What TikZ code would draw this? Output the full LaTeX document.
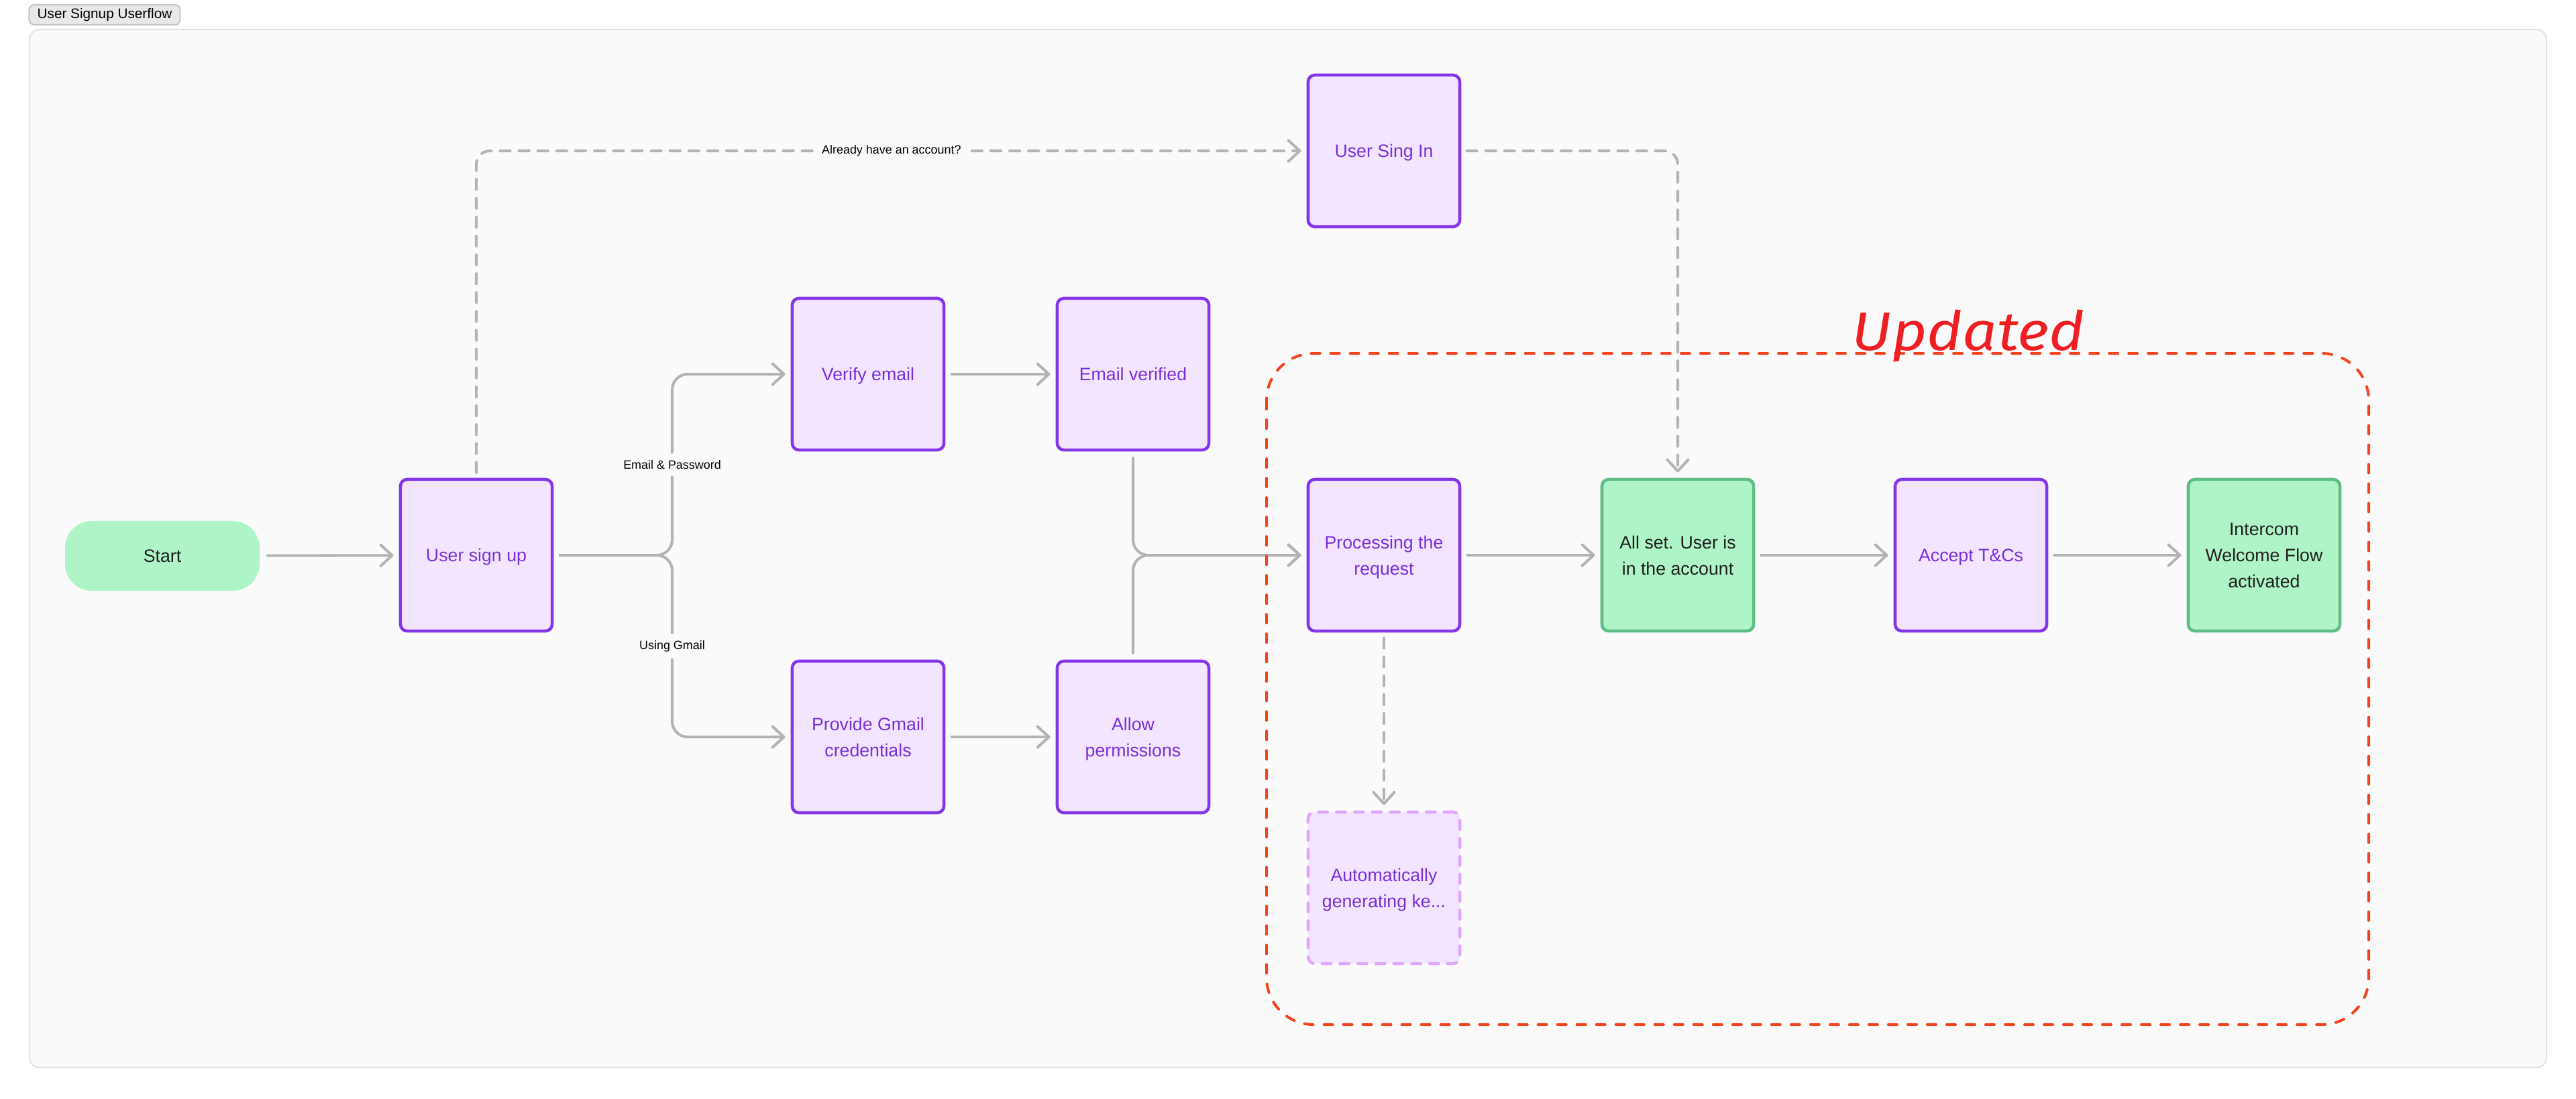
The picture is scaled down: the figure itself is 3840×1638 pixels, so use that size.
\documentclass[tikz,border=0pt]{standalone}
\usepackage{fontspec}
\setmainfont{Liberation Sans}
\newfontfamily\handfont{Fira Sans}[FakeStretch=1.12]
\usetikzlibrary{arrows.meta}
\definecolor{framefill}{HTML}{FAFAFA}
\definecolor{frameline}{HTML}{E2E2E2}
\definecolor{tabfill}{HTML}{E8E8E8}
\definecolor{tabline}{HTML}{C6C6C6}
\definecolor{boxfill}{HTML}{F3E5FF}
\definecolor{boxline}{HTML}{8536E8}
\definecolor{boxtext}{HTML}{7B2FDB}
\definecolor{ghostline}{HTML}{E0A6FC}
\definecolor{donefill}{HTML}{AFF4C6}
\definecolor{doneline}{HTML}{5EBD87}
\definecolor{donetext}{HTML}{1E1E1E}
\definecolor{linegray}{HTML}{B3B3B3}
\definecolor{redline}{HTML}{F2441E}
\definecolor{updred}{HTML}{EE1E22}
\begin{document}
\begin{tikzpicture}[x=0.01cm, y=-0.01cm,
		box/.style={draw=boxline, fill=boxfill, text=boxtext, line width=1.3pt, rounded corners=0.1cm,
			minimum width=2.26cm, minimum height=2.26cm, align=center, inner sep=0pt, text depth=0pt,
			font=\fontsize{7.6}{11.1}\selectfont},
		done/.style={box, draw=doneline, fill=donefill, text=donetext},
		ghost/.style={box, draw=ghostline, dash pattern=on 3.8pt off 3.8pt, line cap=round},
		flow/.style={draw=linegray, line width=1.15pt, rounded corners=0.23cm, shorten <=2.3pt, shorten >=2.3pt,
			-{Straight Barb[length=4.8pt,width=8.8pt,round]}},
		maybe/.style={flow, dash pattern=on 4.3pt off 3.7pt, line cap=round, rounded corners=0.2cm},
		lbl/.style={fill=framefill, text=black, inner xsep=0.1cm, inner ysep=0.1cm, font=\fontsize{5.1}{6}\selectfont}]
		\fill[white] (0,0) rectangle (3840,1638);
		\useasboundingbox (0,0) rectangle (3840,1638);
		\draw[draw=frameline, fill=framefill, line width=0.6pt, rounded corners=0.15cm] (44,44) rectangle (3796,1592);
		\node[draw=tabline, fill=tabfill, line width=0.6pt, rounded corners=0.08cm, minimum width=2.25cm,
			minimum height=0.3cm, inner sep=0pt, font=\fontsize{5.9}{7}\selectfont] (title) at (156,22) {User Signup Userflow};
		
		\node[done, draw=none, rounded corners=0.4cm, minimum width=2.9cm, minimum height=1.04cm] (start) at (242,829) {Start};
		\node[box] (signup) at (710,828) {User sign up};
		\node[box] (verify) at (1294,558) {Verify email};
		\node[box] (emailok) at (1689,558) {Email verified};
		\node[box] (gmail) at (1294,1099) {Provide Gmail\\credentials};
		\node[box] (allow) at (1689,1099) {Allow\\permissions};
		\node[box] (signin) at (2063,225) {User Sing In};
		\node[box] (process) at (2063,828) {Processing the\\request};
		\node[done] (allset) at (2501,828) {All set. User is\\in the account};
		\node[box] (terms) at (2938,828) {Accept T\&Cs};
		\node[done] (intercom) at (3375,828) {Intercom\\Welcome Flow\\activated};
		\node[ghost] (keygen) at (2063,1324) {Automatically\\generating ke...};
		
		\coordinate (split) at (1002,828);
		\draw[flow] (start) -- (signup);
		\draw[flow] (signup.east) -- (split) |- node[lbl, pos=0.25] {Email \& Password} (verify.west);
		\draw[flow] (signup.east) -- (split) |- node[lbl, pos=0.25] {Using Gmail} (gmail.west);
		\draw[flow] (verify) -- (emailok);
		\draw[flow] (gmail) -- (allow);
		\draw[flow] (emailok.south) |- (process.west);
		\draw[flow] (allow.north) |- (process.west);
		\draw[flow] (process) -- (allset);
		\draw[flow] (allset) -- (terms);
		\draw[flow] (terms) -- (intercom);
		\draw[maybe] (signup.north) |- node[lbl, pos=0.75] {Already have an account?} (signin.west);
		\draw[maybe] (signin.east) -| (allset.north);
		\draw[maybe] (process.south) -- (keygen.north);
		
		\draw[draw=redline, line width=1.15pt, dash pattern=on 3.7pt off 4.55pt, line cap=round,
			rounded corners=0.7cm] (1888,527) rectangle (3531,1528);
		\node[text=updred, anchor=base, inner sep=0pt, font=\handfont\itshape\fontsize{23}{23}\selectfont] (updated)
			at (2934,522) {Updated};
	\end{tikzpicture}
\end{document}
